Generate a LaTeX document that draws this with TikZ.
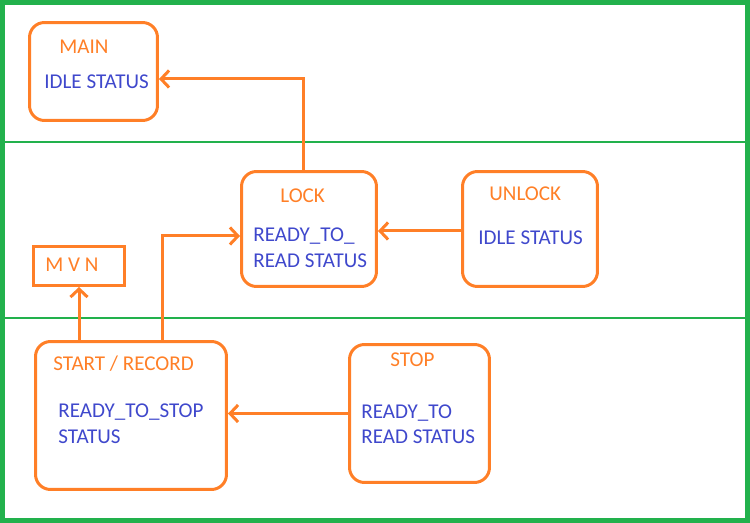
\documentclass[tikz,border=0pt]{standalone}
\usepackage{fontspec}
\setmainfont{Carlito}
\usetikzlibrary{arrows.meta}
\definecolor{paintorange}{HTML}{FF7F27}
\definecolor{paintblue}{HTML}{3F48CC}
\definecolor{paintgreen}{HTML}{22B14C}
\newcommand{\labelfont}{\fontsize{12}{14}\selectfont}

\begin{document}
\begin{tikzpicture}[x=0.02cm,y=-0.02cm,
  statebox/.style={draw=paintorange,line width=0.06cm,rounded corners=0.3cm,inner sep=0},
  plainbox/.style={draw=paintorange,line width=0.06cm,inner sep=0},
  statename/.style={text=paintorange,anchor=base west,inner sep=0,font=\labelfont},
  statetext/.style={text=paintblue,anchor=base west,inner sep=0,font=\labelfont},
  flow/.style={draw=paintorange,line width=0.06cm,-{Straight Barb[length=0.16cm,width=0.34cm]}}]

\useasboundingbox (0,0) rectangle (750,523);

% frame and bands
\draw [paintgreen,line width=0.1cm] (2.5,2.5) rectangle (747.5,520.5);
\draw [paintgreen,line width=0.03cm] (5,142) -- (745,142);
\draw [paintgreen,line width=0.03cm] (5,318) -- (745,318);

% boxes
\node [statebox,minimum width=2.56cm,minimum height=1.96cm] (main) at (93.5,71.5) {};
\node [statebox,minimum width=2.70cm,minimum height=2.30cm] (lock) at (309,229) {};
\node [statebox,minimum width=2.70cm,minimum height=2.30cm] (unlock) at (530,229) {};
\node [plainbox,minimum width=1.82cm,minimum height=0.78cm] (mvn) at (79,266) {};
\node [statebox,minimum width=3.82cm,minimum height=2.96cm] (start) at (131,415.5) {};
\node [statebox,minimum width=2.80cm,minimum height=2.76cm] (stop) at (419.5,413.5) {};

% texts
\node [statename] (mainname) at (59,54) {MAIN};
\node [statetext] (maintext) at (44,89) {IDLE STATUS};
\node [statename] (lockname) at (280,203) {LOCK};
\node [statetext] (locktexta) at (253,242) {READY\_TO\_};
\node [statetext] (locktextb) at (253,268) {READ STATUS};
\node [statename] (unlockname) at (489,201) {UNLOCK};
\node [statetext] (unlocktext) at (478,245) {IDLE STATUS};
\node [statename] (mvnname) at (45,272) {M V N};
\node [statename] (startname) at (53,370) {START / RECORD};
\node [statetext] (starttexta) at (58,417) {READY\_TO\_STOP};
\node [statetext] (starttextb) at (58,443) {STATUS};
\node [statename] (stopname) at (390,366) {STOP};
\node [statetext] (stoptexta) at (361,418) {READY\_TO};
\node [statetext] (stoptextb) at (361,443) {READ STATUS};

% transitions
\draw [flow] ([xshift=-0.12cm]lock.north) |- ([yshift=-0.15cm]main.east);
\draw [flow] ([yshift=-0.04cm]unlock.west) -- ([yshift=-0.04cm]lock.east);
\draw [flow] (start.north -| mvn.south) -- (mvn.south);
\draw [flow] ([xshift=0.64cm]start.north) |- ([yshift=-0.14cm]lock.west);
\draw [flow] (stop.west) -- (stop.west -| start.east);
\end{tikzpicture}
\end{document}
